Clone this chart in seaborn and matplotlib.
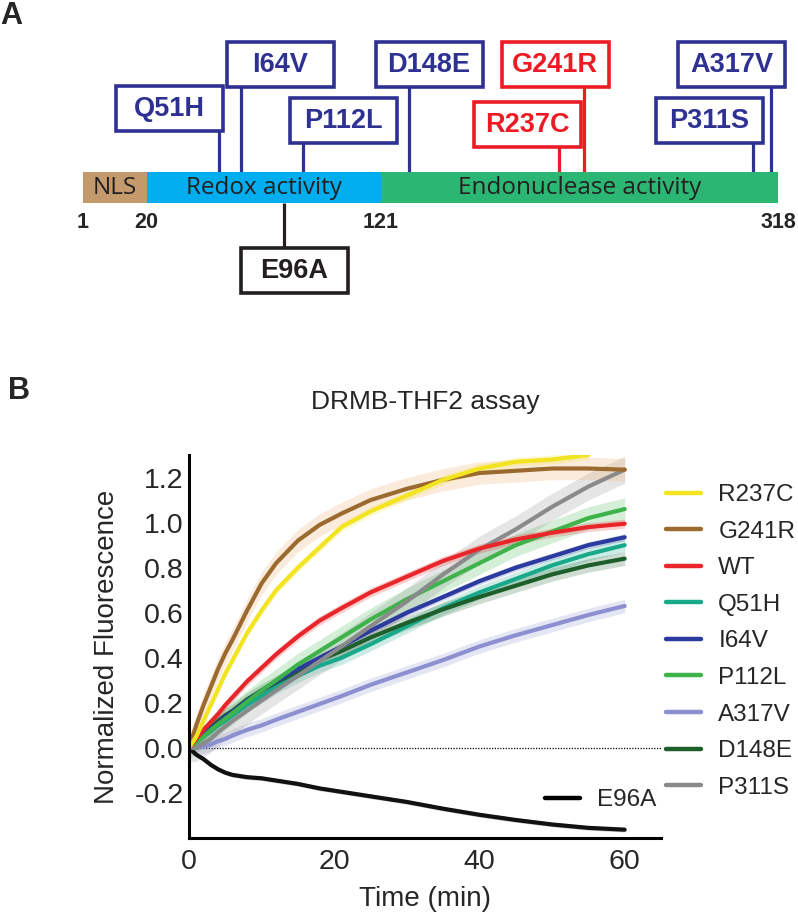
import numpy as np
import pandas as pd
import seaborn as sns
import matplotlib.pyplot as plt
from matplotlib.patches import Rectangle
from matplotlib.lines import Line2D

# ---- panel A: domain map ----
domain_names = ["NLS", "Redox activity", "Endonuclease activity"]
domain_bounds = [1, 20, 121, 318]
domain_colors = ["#C49A6C", "#00AEEF", "#2BB673"]

mutations = ["Q51H", "I64V", "P112L", "D148E", "R237C", "G241R", "P311S", "A317V", "E96A"]
mut_colors = ["#2E3192"] * 4 + ["#ED1C24"] * 2 + ["#2E3192"] * 2 + ["#231F20"]

# ---- panel B: DRMB-THF2 assay ----
time_min = [0, 1, 2, 3, 4, 5, 6, 8, 10, 12, 15, 18, 21, 25, 30, 35, 40, 45, 50, 55, 60]
fluor = {
    "R237C": [0, 0.05, 0.12, 0.19, 0.26, 0.33, 0.39, 0.51, 0.61, 0.70, 0.80, 0.89, 0.98,
              1.05, 1.12, 1.19, 1.24, 1.27, 1.28, 1.30, np.nan],
    "G241R": [0, 0.10, 0.19, 0.27, 0.35, 0.42, 0.48, 0.61, 0.73, 0.82, 0.92, 0.99, 1.04,
              1.10, 1.15, 1.19, 1.22, 1.23, 1.24, 1.24, 1.235],
    "WT":    [0, 0.04, 0.08, 0.115, 0.15, 0.19, 0.225, 0.295, 0.355, 0.415, 0.495, 0.565, 0.62,
              0.69, 0.76, 0.83, 0.885, 0.925, 0.955, 0.98, 0.995],
    "Q51H":  [0, 0.025, 0.05, 0.075, 0.10, 0.12, 0.145, 0.19, 0.23, 0.27, 0.32, 0.365, 0.40,
              0.46, 0.54, 0.62, 0.69, 0.75, 0.81, 0.86, 0.90],
    "I64V":  [0, 0.03, 0.06, 0.085, 0.11, 0.14, 0.16, 0.21, 0.255, 0.295, 0.35, 0.40, 0.45,
              0.52, 0.60, 0.67, 0.74, 0.80, 0.85, 0.90, 0.935],
    "P112L": [0, 0.025, 0.05, 0.08, 0.105, 0.13, 0.155, 0.205, 0.255, 0.30, 0.37, 0.43, 0.49,
              0.57, 0.66, 0.74, 0.82, 0.90, 0.96, 1.02, 1.06],
    "A317V": [0, 0.0, 0.005, 0.015, 0.03, 0.04, 0.055, 0.08, 0.10, 0.125, 0.16, 0.195, 0.23,
              0.28, 0.335, 0.39, 0.45, 0.50, 0.545, 0.59, 0.63],
    "D148E": [0, 0.035, 0.065, 0.09, 0.12, 0.145, 0.165, 0.215, 0.255, 0.29, 0.34, 0.39, 0.43,
              0.49, 0.555, 0.615, 0.67, 0.72, 0.77, 0.81, 0.84],
    "P311S": [0, 0.0, 0.02, 0.04, 0.07, 0.095, 0.12, 0.165, 0.21, 0.255, 0.32, 0.385, 0.45,
              0.54, 0.65, 0.77, 0.88, 0.97, 1.07, 1.16, 1.235],
    "E96A":  [0, -0.03, -0.05, -0.075, -0.095, -0.11, -0.12, -0.13, -0.135, -0.145, -0.16, -0.18,
              -0.195, -0.215, -0.24, -0.27, -0.297, -0.32, -0.34, -0.355, -0.363],
}
fluor_err = {"R237C": 0.02, "G241R": 0.05, "WT": 0.02, "Q51H": 0.03, "I64V": 0.015,
             "P112L": 0.05, "A317V": 0.03, "D148E": 0.03, "P311S": 0.06, "E96A": 0.01}
variant_colors = {"R237C": "#F2E420", "G241R": "#9B6A2E", "WT": "#E8262A", "Q51H": "#17A989",
                  "I64V": "#2A3A9E", "P112L": "#3DB34A", "A317V": "#8C8FD0", "D148E": "#1E5E2A",
                  "P311S": "#8A8A8A", "E96A": "#111111"}
band_colors = dict(variant_colors, **{"G241R": "#F0A860"})
legend_order = ["R237C", "G241R", "WT", "Q51H", "I64V", "P112L", "A317V", "D148E", "P311S"]

sns.set_theme(style="white")
plt.rcParams["font.family"] = ["Liberation Sans", "DejaVu Sans"]
plt.rcParams["axes.unicode_minus"] = False

W, H = 798, 917
fig = plt.figure(figsize=(W / 100, H / 100), dpi=100)

# panel A drawn in pixel-like layout coordinates
axa = fig.add_axes([0, 1 - 330 / H, 1, 330 / H])
axa.set_xlim(0, W)
axa.set_ylim(330, 0)
axa.axis("off")

dom_x = [83, 146.5, 381, 778]   # schematic, not to scale
bar_top, bar_bot = 171.5, 203
for i, name in enumerate(domain_names):
    axa.add_patch(Rectangle((dom_x[i], bar_top), dom_x[i + 1] - dom_x[i], bar_bot - bar_top,
                            facecolor=domain_colors[i], edgecolor="none", zorder=2))
    axa.text((dom_x[i] + dom_x[i + 1]) / 2, (bar_top + bar_bot) / 2 + 1, name,
             ha="center", va="center", fontsize=17.5, color="#231F20",
             family=["Open Sans", "DejaVu Sans"], zorder=3)
for bx, lab in zip(dom_x, domain_bounds):
    axa.text(bx, 223, str(lab), ha="center", va="center", fontsize=15.5, fontweight="bold")

stem_x = [219, 241, 303, 409, 559, 584, 753, 771, 284]
box_cx = [169, 280, 343, 429, 527.5, 555, 709, 731.5, 294.5]
box_cy = [108, 64.5, 120.5, 64.5, 124, 64.5, 120.5, 64.5, 270.5]
bw, bh = 107, 45
for m, c, sx, cx, cy in zip(mutations, mut_colors, stem_x, box_cx, box_cy):
    if m == "E96A":
        axa.plot([sx, sx], [bar_bot, cy - bh / 2], color=c, lw=2.3, zorder=1, solid_capstyle="butt")
    else:
        axa.plot([sx, sx], [cy + bh / 2, bar_top], color=c, lw=2.3, zorder=1, solid_capstyle="butt")
    axa.add_patch(Rectangle((cx - bw / 2, cy - bh / 2), bw, bh, facecolor="white",
                            edgecolor=c, lw=2.6, zorder=2))
    axa.text(cx, cy + 1, m, ha="center", va="center", fontsize=19.5, fontweight="bold",
             color=c, zorder=3)

fig.text(0, 1 - 16 / H, "A", fontsize=22, fontweight="bold", va="center", ha="left")
fig.text(8 / W, 1 - 391 / H, "B", fontsize=22, fontweight="bold", va="center", ha="left")

# panel B
ax = fig.add_axes([189 / W, 1 - 838 / H, (661 - 189) / W, (838 - 455) / H])
rows = []
for v, vals in fluor.items():
    for t, y in zip(time_min, vals):
        if not np.isnan(y):
            rows.append((t, y, v))
df = pd.DataFrame(rows, columns=["time", "fluor", "variant"])

draw_order = ["E96A", "A317V", "Q51H", "D148E", "I64V", "P112L", "P311S", "WT", "G241R", "R237C"]
for v in draw_order:
    d = df[df["variant"] == v]
    ax.fill_between(d["time"], d["fluor"] - fluor_err[v], d["fluor"] + fluor_err[v],
                    color=band_colors[v], alpha=0.22, lw=0)
sns.lineplot(data=df, x="time", y="fluor", hue="variant", hue_order=draw_order,
             palette=variant_colors, linewidth=3.0, legend=False, ax=ax, estimator=None)
ax.axhline(0, color="black", lw=0.9, ls=(0, (1, 1.2)), zorder=0)

ax.set_xlim(0, 65)
ax.set_ylim(-0.4, 1.3)
ax.set_xticks([0, 20, 40, 60])
ax.set_yticks([-0.2, 0.0, 0.2, 0.4, 0.6, 0.8, 1.0, 1.2])
ax.set_yticklabels([f"{t:.1f}" for t in [-0.2, 0.0, 0.2, 0.4, 0.6, 0.8, 1.0, 1.2]])
for s in ["top", "right"]:
    ax.spines[s].set_visible(False)
for s in ["left", "bottom"]:
    ax.spines[s].set_linewidth(2.2)
    ax.spines[s].set_color("black")
ax.tick_params(axis="both", direction="in", length=4, width=1.8, labelsize=20.5, color="black")
ax.tick_params(axis="x", pad=8)
ax.tick_params(axis="y", pad=4)
ax.set_xlabel("Time (min)", fontsize=20, labelpad=8)
ax.set_ylabel("Normalized Fluorescence", fontsize=20, labelpad=10)
ax.set_title("DRMB-THF2 assay", fontsize=19, pad=33)
ax.set_facecolor("none")

handles = [Line2D([], [], color=variant_colors[v], lw=3.2) for v in legend_order]
fig.legend(handles, legend_order, loc="upper left", bbox_to_anchor=(666 / W, 1 - 484 / H),
           frameon=False, borderpad=0, borderaxespad=0, handlelength=1.45,
           handletextpad=0.7, labelspacing=0.6, fontsize=17.5)
fig.legend([Line2D([], [], color="black", lw=3.2)], ["E96A"], loc="center left",
           bbox_to_anchor=(545 / W, 1 - 800 / H), frameon=False, borderpad=0,
           borderaxespad=0, handlelength=1.45, handletextpad=0.7, fontsize=17.5)

fig.savefig("out.png", dpi=100)
